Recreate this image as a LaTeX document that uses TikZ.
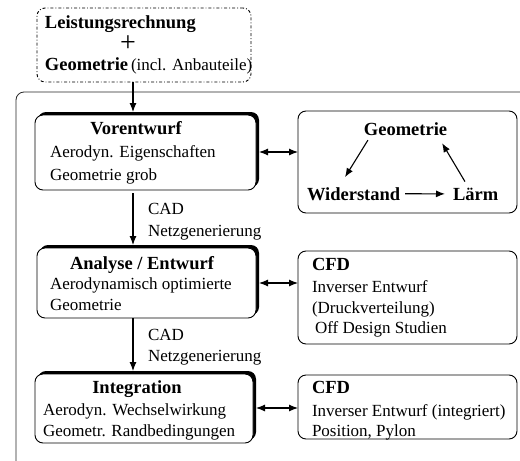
\documentclass[tikz,border=0pt]{standalone}
\usepackage{fontspec}
\setmainfont{Liberation Serif}
\usetikzlibrary{arrows.meta,shadows}
\begin{document}
\begin{tikzpicture}[x=1pt,y=-1pt,
  >={Latex[length=9pt,width=7pt]},
  box/.style={draw, line width=0.9pt, rounded corners=8pt, fill=white, inner sep=0pt, outer sep=0pt},
  shbox/.style={box, drop shadow={shadow xshift=3pt, shadow yshift=3pt, fill=black, opacity=1}},
  txt/.style={inner sep=0pt, outer sep=0pt, anchor=base west, font=\fontsize{17}{20}\selectfont},
  ttl/.style={inner sep=0pt, outer sep=0pt, anchor=base, font=\fontsize{18.5}{22}\selectfont\bfseries},
  arr/.style={line width=1.1pt, ->},
  darr/.style={line width=1.1pt, <->},
]
\useasboundingbox (0,0) rectangle (520,461);
\fill[white] (0,0) rectangle (520,461);
% outer frame
\draw[line width=0.8pt, black!85, rounded corners=8pt] (16,461) -- (16,92) -- (520,92);

% top box
\node[box, dash dot, minimum width=214pt, minimum height=74pt] (top) at (144,45) {};
\node[ttl, anchor=base west] (t1) at (45,28) {Leistungsrechnung};
\node[inner sep=0pt, font=\fontsize{28}{30}\selectfont] (plus) at (128,44) {+};
\node[txt] (t2) at (45,70) {{\fontsize{18.5}{22}\selectfont\bfseries Geometrie}\,(incl. Anbauteile)};

% left boxes
\node[shbox, minimum width=221pt, minimum height=75pt] (vor) at (145.5,152.5) {};
\node[ttl] (v1) at (136,134) {Vorentwurf};
\node[txt] (v2) at (50,157) {Aerodyn. Eigenschaften};
\node[txt] (v3) at (50,180) {Geometrie grob};

\node[shbox, minimum width=219pt, minimum height=70pt] (ana) at (146.5,283) {};
\node[ttl] (a1) at (142,269) {Analyse / Entwurf};
\node[txt] (a2) at (50,289) {Aerodynamisch optimierte};
\node[txt] (a3) at (50,310) {Geometrie};

\node[shbox, minimum width=218pt, minimum height=69pt] (int) at (144,408.5) {};
\node[ttl] (i1) at (137,393) {Integration};
\node[txt] (i2) at (43,415) {Aerodyn. Wechselwirkung};
\node[txt] (i3) at (43,436) {Geometr. Randbedingungen};

% CAD labels
\node[txt] (c1) at (148,214) {CAD};
\node[txt] (c2) at (148,236) {Netzgenerierung};
\node[txt] (c3) at (148,340) {CAD};
\node[txt] (c4) at (148,361) {Netzgenerierung};

% right boxes
\node[box, minimum width=219pt, minimum height=102pt] (geo) at (407.5,162) {};
\node[ttl] (gG) at (405.5,135) {Geometrie};
\node[ttl, anchor=base west] (gW) at (307,200) {Widerstand};
\node[ttl, anchor=base west] (gL) at (453,200) {Lärm};

\node[box, minimum width=219pt, minimum height=93pt] (cfdA) at (407.5,297.5) {};
\node[ttl, anchor=base west] (f1) at (312,270) {CFD};
\node[txt] (f2) at (312,292) {Inverser Entwurf};
\node[txt] (f3) at (312,313) {(Druckverteilung)};
\node[txt] (f4) at (315,333) {Off Design Studien};

\node[box, minimum width=219pt, minimum height=64pt] (cfdB) at (407.5,407) {};
\node[ttl, anchor=base west] (h1) at (312,393) {CFD};
\node[txt] (h2) at (312,416) {Inverser Entwurf (integriert)};
\node[txt] (h3) at (312,436) {Position, Pylon};

% connectors
\draw[arr] (133,0 |- top.south) -- ([yshift=3pt]133,0 |- vor.north);
\draw[arr] ([yshift=-3pt]133,0 |- vor.south) -- ([yshift=3pt]133,0 |- ana.north);
\draw[arr] (133,0 |- ana.south) -- ([yshift=3pt]133,0 |- int.north);

\draw[darr] ([xshift=3pt]vor.east |- 0,152) -- (geo.west |- 0,152);
\draw[darr] ([xshift=3pt]ana.east |- 0,283) -- (cfdA.west |- 0,283);
\draw[darr] ([xshift=3pt]int.east |- 0,408) -- (cfdB.west |- 0,408);

\draw[arr] ([xshift=4pt,yshift=-5pt]gG.south west) -- ([xshift=38pt,yshift=10pt]gW.north west);
\draw[arr] ([xshift=5pt]gW.east) -- ([xshift=-8pt]gL.west);
\draw[arr] ([xshift=12pt,yshift=6pt]gL.north west) -- ([xshift=-5pt,yshift=-8pt]gG.south east);
\end{tikzpicture}
\end{document}
